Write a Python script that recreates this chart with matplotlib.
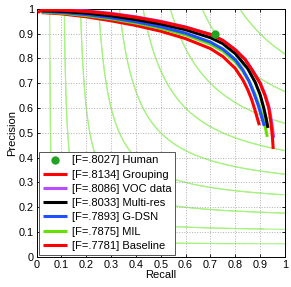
import numpy as np
import matplotlib
matplotlib.use("Agg")
import matplotlib.pyplot as plt

plt.rcParams["font.family"] = ["Liberation Sans", "DejaVu Sans"]

# ---------- data ----------
human_r, human_p = [0.72], [0.90]

grouping_r = [0.005, 0.02, 0.1, 0.2, 0.3, 0.4, 0.5, 0.6, 0.7, 0.75, 0.8, 0.84, 0.87, 0.9, 0.92, 0.935, 0.944, 0.95, 0.953]
grouping_p = [0.985, 0.995, 0.995, 0.99, 0.98, 0.966, 0.948, 0.926, 0.897, 0.873, 0.835, 0.795, 0.75, 0.70, 0.65, 0.60, 0.54, 0.48, 0.435]

voc_r = [0.02, 0.1, 0.2, 0.3, 0.4, 0.5, 0.6, 0.7, 0.75, 0.8, 0.84, 0.87, 0.9, 0.92, 0.937, 0.947, 0.955]
voc_p = [0.998, 0.997, 0.992, 0.982, 0.968, 0.95, 0.927, 0.897, 0.873, 0.836, 0.797, 0.752, 0.703, 0.655, 0.60, 0.54, 0.48]

multires_r = [0.02, 0.1, 0.2, 0.3, 0.4, 0.5, 0.6, 0.7, 0.75, 0.8, 0.85, 0.88, 0.9, 0.915, 0.925, 0.932]
multires_p = [0.993, 0.99, 0.983, 0.972, 0.957, 0.939, 0.916, 0.884, 0.86, 0.82, 0.76, 0.705, 0.655, 0.60, 0.555, 0.52]

gdsn_r = [0.02, 0.1, 0.2, 0.3, 0.4, 0.5, 0.6, 0.7, 0.75, 0.8, 0.83, 0.855, 0.875, 0.893, 0.906, 0.917]
gdsn_p = [0.99, 0.986, 0.977, 0.964, 0.948, 0.928, 0.902, 0.866, 0.838, 0.795, 0.755, 0.71, 0.66, 0.61, 0.565, 0.528]

mil_r = [0.02, 0.1, 0.2, 0.3, 0.4, 0.5, 0.6, 0.7, 0.75, 0.8, 0.83, 0.86, 0.88, 0.898, 0.912, 0.922, 0.929]
mil_p = [0.987, 0.983, 0.973, 0.96, 0.943, 0.922, 0.895, 0.858, 0.83, 0.787, 0.75, 0.70, 0.655, 0.605, 0.56, 0.52, 0.484]

baseline_r = [0.02, 0.1, 0.2, 0.3, 0.4, 0.5, 0.6, 0.7, 0.75, 0.8, 0.83, 0.85, 0.866, 0.88, 0.897]
baseline_p = [0.985, 0.98, 0.968, 0.952, 0.933, 0.91, 0.88, 0.84, 0.808, 0.76, 0.715, 0.675, 0.635, 0.59, 0.531]

labels = ["[F=.8027] Human", "[F=.8134] Grouping", "[F=.8086] VOC data",
          "[F=.8033] Multi-res", "[F=.7893] G-DSN", "[F=.7875] MIL",
          "[F=.7781] Baseline"]
iso_levels = [0.1, 0.2, 0.3, 0.4, 0.5, 0.6, 0.7, 0.8, 0.9]

fig = plt.figure(figsize=(2.91, 2.87), dpi=100)
ax = fig.add_axes([0.126, 0.105, 0.853, 0.864])

# iso-F contours
iso_col = "#a6f27e"
for f in iso_levels:
    r = np.linspace(f / 2 + 0.001, 1, 400)
    p = f * r / (2 * r - f)
    m = p <= 1
    ax.plot(r[m], p[m], color=iso_col, lw=0.8, zorder=1)
    ax.plot(p[m], r[m], color=iso_col, lw=0.8, zorder=1)

lw = 2.2
curves = [
    (baseline_r, baseline_p, "#ff0000", labels[6]),
    (mil_r, mil_p, "#66e000", labels[5]),
    (gdsn_r, gdsn_p, "#1f4fff", labels[4]),
    (multires_r, multires_p, "#000000", labels[3]),
    (voc_r, voc_p, "#b84cff", labels[2]),
    (grouping_r, grouping_p, "#ff0000", labels[1]),
]
handles = {}
for r, p, c, lab in curves:
    h, = ax.plot(r, p, color=c, lw=lw, solid_capstyle="butt", zorder=3)
    handles[lab] = h
h, = ax.plot(human_r, human_p, "o", color="#22a322", ms=5, ls="none", zorder=4)
handles[labels[0]] = h

ax.set_xlim(0, 1)
ax.set_ylim(0, 1)
ticks = np.arange(0, 1.01, 0.1)
ticklab = ["0"] + ["%.1f" % t for t in ticks[1:-1]] + ["1"]
ax.set_xticks(ticks)
ax.set_yticks(ticks)
ax.set_xticklabels(ticklab)
ax.set_yticklabels(ticklab)
ax.tick_params(direction="in", length=2.5, width=0.6, labelsize=7.8, pad=2,
               top=True, right=True)
ax.grid(True, color="#b0b0b0", ls=":", lw=0.7)
for s in ax.spines.values():
    s.set_linewidth(0.7)
ax.set_xlabel("Recall", fontsize=8, labelpad=0)
ax.set_ylabel("Precision", fontsize=8, labelpad=1)

leg = ax.legend([handles[l] for l in labels], labels, loc="lower left",
                fontsize=8, frameon=True, fancybox=False, framealpha=1,
                edgecolor="#555555", borderpad=0.35, labelspacing=0.38,
                handlelength=2.2, handletextpad=0.4, borderaxespad=0.2)
leg.get_frame().set_linewidth(0.7)

fig.savefig("out.png", dpi=100)
